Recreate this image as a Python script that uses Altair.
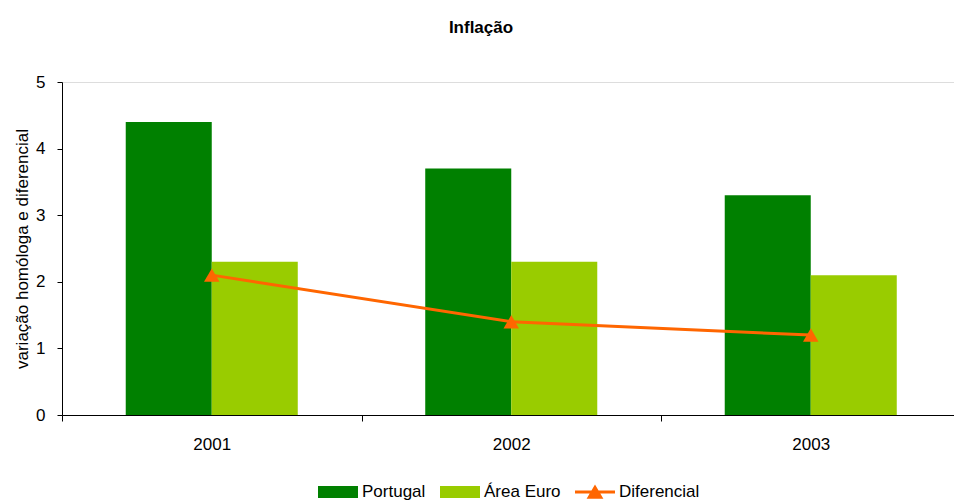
import altair as alt
import pandas as pd

# ---- data ----
years = ["2001", "2002", "2003"]
portugal = [4.4, 3.7, 3.3]
area_euro = [2.3, 2.3, 2.1]
diferencial = [2.1, 1.4, 1.2]
bar_series = ["Portugal", "Área Euro"]
legend_series = ["Portugal", "Área Euro", "Diferencial"]
y_ticks = [0, 1, 2, 3, 4, 5]

bars_df = pd.DataFrame({
    "ano": years * 2,
    "serie": [bar_series[0]] * 3 + [bar_series[1]] * 3,
    "valor": portugal + area_euro,
})
line_df = pd.DataFrame({"ano": years, "valor": diferencial})
legend_df = pd.DataFrame({"serie": legend_series})

# ---- style ----
FONT = "Liberation Sans"
C_PT, C_EU, C_DIF = "#008000", "#99CC00", "#FF6600"
RECT = "M-1,-0.3H1V0.3H-1Z"
LINE_TRI = "M-1,-0.075H1V0.075H-1Z M0,-0.38L0.42,0.34L-0.42,0.34Z"

x_scale = alt.Scale(domain=years, range=[0, 898.5], paddingInner=0, paddingOuter=0)
y_scale = alt.Scale(domain=[0, 5], nice=False)

x_enc = alt.X("ano:N", scale=x_scale, sort=years,
              axis=alt.Axis(title=None, labelAngle=0, tickBand="extent",
                            labelFont=FONT, labelFontSize=17, labelColor="black",
                            labelPadding=15, tickSize=6, tickColor="black",
                            domainColor="black", tickWidth=1, domainWidth=1))
y_enc = alt.Y("valor:Q", scale=y_scale,
              axis=alt.Axis(title="variação homóloga e diferencial", values=y_ticks,
                            grid=False, labelFont=FONT, labelFontSize=17,
                            labelColor="black", labelPadding=12, tickSize=5,
                            tickColor="black", domainColor="black",
                            titleFont=FONT, titleFontSize=17, titleFontWeight="normal",
                            titleColor="black", titlePadding=4))

bars = alt.Chart(bars_df).mark_bar().encode(
    x=x_enc,
    y=y_enc,
    xOffset=alt.XOffset("serie:N", sort=bar_series,
                        scale=alt.Scale(paddingInner=0, paddingOuter=0.741)),
    fill=alt.Fill("serie:N", sort=bar_series,
                  scale=alt.Scale(domain=bar_series, range=[C_PT, C_EU]), legend=None),
)

line = alt.Chart(line_df).mark_line(
    color=C_DIF, strokeWidth=3,
    point=alt.OverlayMarkDef(shape="triangle-up", size=240, filled=True,
                             color=C_DIF, opacity=1),
).encode(x=x_enc, y=y_enc)

leg = dict(title=None, orient="none", direction="horizontal",
           legendX=256, legendY=390, padding=0,
           symbolSize=1600, symbolOpacity=1, symbolStrokeWidth=0,
           labelFont=FONT, labelFontSize=17, labelColor="black",
           labelOffset=4, columnPadding=14)

legend_layer = alt.Chart(legend_df).mark_point(filled=True, opacity=0).encode(
    x=alt.value(0),
    y=alt.value(0),
    color=alt.Color("serie:N", sort=legend_series,
                    scale=alt.Scale(domain=legend_series, range=[C_PT, C_EU, C_DIF]),
                    legend=alt.Legend(**leg)),
    shape=alt.Shape("serie:N", sort=legend_series,
                    scale=alt.Scale(domain=legend_series, range=[RECT, RECT, LINE_TRI]),
                    legend=alt.Legend(**leg)),
)

chart = alt.layer(bars, line, legend_layer).properties(
    width=892,
    height=333,
    title=alt.TitleParams("Inflação", font=FONT, fontSize=17, fontWeight="bold",
                          color="black", anchor="middle", frame="group", dx=-27, dy=-32),
    autosize=alt.AutoSizeParams(type="none"),
    padding={"left": 62, "top": 82, "right": 0, "bottom": 85},
).configure_view(strokeWidth=0, stroke="transparent").configure(background="white")

chart.save("out.html", embed_options={"renderer": "svg", "actions": False})
